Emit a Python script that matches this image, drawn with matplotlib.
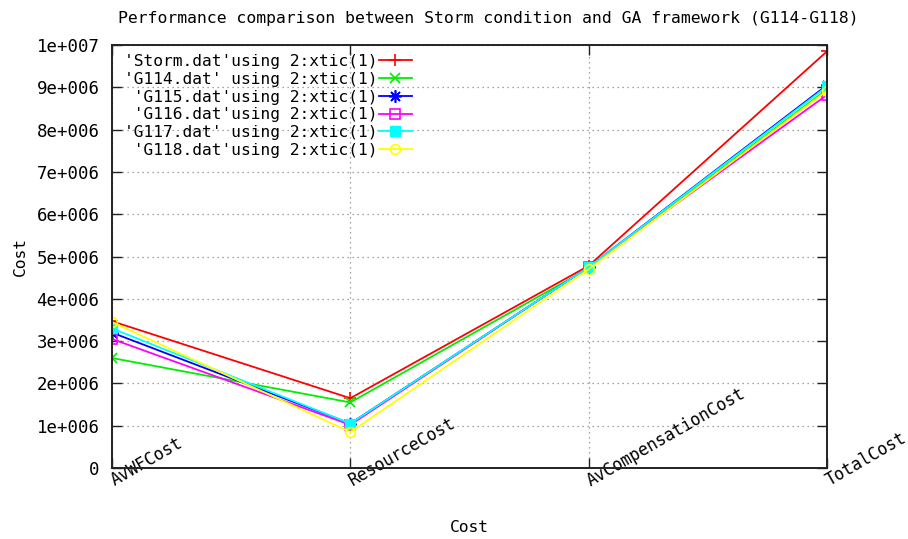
import matplotlib
matplotlib.use("Agg")
import matplotlib.pyplot as plt

# Cost categories on the x axis
categories = ["AvWFCost", "ResourceCost", "AvCompensationCost", "TotalCost"]

# Cost values per run
storm = [3.47e6, 1.65e6, 4.78e6, 9.85e6]
g114 = [2.60e6, 1.55e6, 4.72e6, 8.95e6]
g115 = [3.20e6, 1.05e6, 4.75e6, 9.05e6]
g116 = [3.05e6, 1.02e6, 4.75e6, 8.82e6]
g117 = [3.30e6, 1.05e6, 4.75e6, 9.02e6]
g118 = [3.45e6, 0.85e6, 4.70e6, 8.92e6]

series_labels = [
    "'Storm.dat'using 2:xtic(1)",
    "'G114.dat' using 2:xtic(1)",
    " 'G115.dat'using 2:xtic(1)",
    " 'G116.dat'using 2:xtic(1)",
    "'G117.dat' using 2:xtic(1)",
    " 'G118.dat'using 2:xtic(1)",
]

y_ticks = [0, 1e6, 2e6, 3e6, 4e6, 5e6, 6e6, 7e6, 8e6, 9e6, 1e7]
y_tick_labels = ["0", "1e+006", "2e+006", "3e+006", "4e+006", "5e+006",
                 "6e+006", "7e+006", "8e+006", "9e+006", "1e+007"]

plt.rcParams["font.family"] = ["DejaVu Sans Mono"]
FS = 11.7

fig = plt.figure(figsize=(9.08, 5.39), dpi=100)
ax = fig.add_axes([112 / 908, 1 - 468 / 539, (827 - 112) / 908, (468 - 45) / 539])

x = list(range(len(categories)))
styles = [
    dict(color="#ff0000", marker="+", ms=9, mew=1.2),
    dict(color="#00ee00", marker="x", ms=7, mew=1.2),
    dict(color="#0000ff", marker=(8, 2, 0), ms=9, mew=1.2),
    dict(color="#ff00ff", marker="s", ms=7, mfc="none", mew=1.2),
    dict(color="#00ffff", marker="s", ms=7, mew=1.0),
    dict(color="#ffff00", marker="o", ms=7, mfc="none", mew=1.2),
]
for vals, lab, st in zip([storm, g114, g115, g116, g117, g118], series_labels, styles):
    ax.plot(x, vals, lw=1.3, label=lab, **st)

ax.set_xlim(0, 3)
ax.set_ylim(0, 1e7)
ax.set_yticks(y_ticks, y_tick_labels, fontsize=12.5)
ax.set_xticks(x, categories, fontsize=12, rotation=30, ha="left", va="center",
              rotation_mode="anchor")
ax.tick_params(axis="both", direction="in", length=7, width=1.0, color="#222222",
               top=True, right=True)
ax.tick_params(axis="x", pad=10)
ax.tick_params(axis="y", pad=9)

ax.grid(True, color="#888888", linestyle=(0, (1, 3)), linewidth=0.9)
for sp in ax.spines.values():
    sp.set_linewidth(1.4)
    sp.set_color("#222222")

fig.text(488 / 908, 1 - 18 / 539,
         "Performance comparison between Storm condition and GA framework (G114-G118)",
         fontsize=11.8, ha="center", va="center")
ax.set_xlabel("Cost", fontsize=FS, labelpad=22)
ax.set_ylabel("Cost", fontsize=FS, labelpad=6)

leg = ax.legend(loc="upper left", bbox_to_anchor=(12 / 715, 1 - 9 / 423),
                frameon=False, markerfirst=False, fontsize=FS,
                handlelength=2.0, handletextpad=0.1, labelspacing=0.17,
                borderpad=0, borderaxespad=0)

fig.savefig("out.png", dpi=100, facecolor="white")
